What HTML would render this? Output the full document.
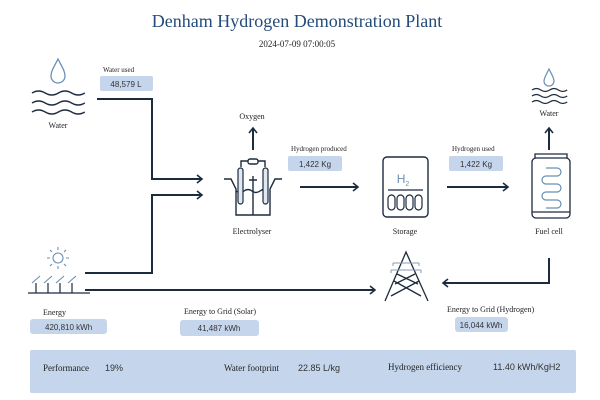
<!DOCTYPE html>
<html><head><meta charset="utf-8"><style>
html,body{margin:0;padding:0;background:#fff;width:600px;height:400px;overflow:hidden}
svg{display:block}
.s{font-family:"Liberation Serif",serif;fill:#222}
.n{font-family:"Liberation Sans",sans-serif;fill:#333}
</style></head><body>
<svg width="600" height="400" viewBox="0 0 600 400" xmlns="http://www.w3.org/2000/svg">
<defs><marker id="a" markerWidth="10" markerHeight="10" refX="7" refY="5" orient="auto" markerUnits="userSpaceOnUse"><path d="M2,1 L7,5 L2,9" fill="none" stroke="#1c2b3e" stroke-width="1.6"/></marker></defs>
<text x="297" y="27" text-anchor="middle" class="s" style="font-size:18px;fill:#244b7a">Denham Hydrogen Demonstration Plant</text>
<text x="297" y="47" text-anchor="middle" class="s" style="font-size:9px">2024-07-09 07:00:05</text>

<g fill="none" stroke="#1c2b3e" stroke-width="2">
<path d="M97,99 H152 V179 H202" marker-end="url(#a)"/>
<path d="M85,273 H152 V195 H202" marker-end="url(#a)"/>
<path d="M85,290 H375" marker-end="url(#a)"/>
<path d="M549,258 V283 H443" marker-end="url(#a)"/>
<path d="M300,187 H358" marker-end="url(#a)"/>
<path d="M447,187 H508" marker-end="url(#a)"/>
<path d="M253,150 V128" marker-end="url(#a)"/>
<path d="M549,150 V128" marker-end="url(#a)"/>
</g>

<path d="M58,59 C54,67 51,71 51,76 A7,7 0 0 0 65,76 C65,71 62,67 58,59Z" fill="none" stroke="#6a8fb5" stroke-width="1.3"/>
<g fill="none" stroke="#1c2b3e" stroke-width="1.5">
<path d="M32,93 q6.6,-4 13.2,0 t13.2,0 t13.2,0 t13.2,0"/>
<path d="M32,103 q6.6,-4 13.2,0 t13.2,0 t13.2,0 t13.2,0"/>
<path d="M32,112 q6.6,-4 13.2,0 t13.2,0 t13.2,0 t13.2,0"/>
</g>
<text x="58" y="128" text-anchor="middle" class="s" style="font-size:8px">Water</text>

<text x="103" y="72" class="s" style="font-size:7px">Water used</text>
<rect x="100" y="76" width="53" height="15" rx="2" fill="#c5d5ec"/>
<text x="126" y="87" text-anchor="middle" class="n" style="font-size:8px">48,579 L</text>

<text x="252" y="119" text-anchor="middle" class="s" style="font-size:8px">Oxygen</text>
<g fill="none" stroke="#1c2b3e" stroke-width="1.4">
<path d="M224,179 H231 L236,189 V215 H270 V189 L275,179 H282"/>
<path d="M236,191 q4,3 8,0 t8,0 t8,0 t8,0 "/>
<path d="M253,176 V215 M249,180 H257"/>
<rect x="248" y="159" width="10" height="5" rx="2"/>
<path d="M248,161 H241 V167 M258,161 H265 V167"/>
</g>
<rect x="238" y="168" width="5" height="36" rx="2.5" fill="#dfe8f3" stroke="#1c2b3e" stroke-width="1.2"/>
<rect x="263" y="168" width="5" height="36" rx="2.5" fill="#dfe8f3" stroke="#1c2b3e" stroke-width="1.2"/>
<text x="252" y="234" text-anchor="middle" class="s" style="font-size:8px">Electrolyser</text>

<text x="291" y="151" class="s" style="font-size:7px">Hydrogen produced</text>
<rect x="288" y="156" width="54" height="15" rx="2" fill="#c5d5ec"/>
<text x="315" y="167" text-anchor="middle" class="n" style="font-size:8px">1,422 Kg</text>

<rect x="383" y="157" width="45" height="60" rx="4" fill="none" stroke="#1c2b3e" stroke-width="1.4"/>
<text x="403" y="183" text-anchor="middle" class="n" style="font-size:12px;fill:#6a8fb5">H<tspan font-size="7" dy="3">2</tspan></text>
<line x1="388" y1="190" x2="423" y2="190" stroke="#1c2b3e" stroke-width="1.3"/>
<g fill="none" stroke="#1c2b3e" stroke-width="1.2">
<rect x="388" y="195" width="7" height="15" rx="3.5"/><rect x="397" y="195" width="7" height="15" rx="3.5"/><rect x="406" y="195" width="7" height="15" rx="3.5"/><rect x="415" y="195" width="7" height="15" rx="3.5"/>
</g>
<text x="405" y="234" text-anchor="middle" class="s" style="font-size:8px">Storage</text>

<text x="452" y="151" class="s" style="font-size:7px">Hydrogen used</text>
<rect x="449" y="156" width="54" height="15" rx="2" fill="#c5d5ec"/>
<text x="476" y="167" text-anchor="middle" class="n" style="font-size:8px">1,422 Kg</text>

<g fill="none" stroke="#1c2b3e" stroke-width="1.3">
<rect x="532" y="158" width="38" height="60" rx="4"/>
<path d="M535,158 V154 H567 V158"/>
<path d="M532,212 H570"/>
</g>
<path d="M546,168 H557 a4,4 0 0 1 0,8 H546 a4,4 0 0 0 0,8 H557 a4,4 0 0 1 0,8 H546 a4,4 0 0 0 0,8 H557 a4,4 0 0 1 0,8 H546" fill="none" stroke="#6a8fb5" stroke-width="1.2"/>
<text x="549" y="234" text-anchor="middle" class="s" style="font-size:8px">Fuel cell</text>
<path d="M549,69 C546,75 544,78 544,81 A5,5 0 0 0 554,81 C554,78 552,75 549,69Z" fill="none" stroke="#6a8fb5" stroke-width="1.2"/>
<g fill="none" stroke="#1c2b3e" stroke-width="1.2">
<path d="M532,90 q4.4,-3 8.8,0 t8.8,0 t8.8,0 t8.8,0"/>
<path d="M532,96 q4.4,-3 8.8,0 t8.8,0 t8.8,0 t8.8,0"/>
<path d="M532,102 q4.4,-3 8.8,0 t8.8,0 t8.8,0 t8.8,0"/>
</g>
<text x="549" y="116" text-anchor="middle" class="s" style="font-size:8px">Water</text>

<g fill="none" stroke="#6a8fb5" stroke-width="1.1">
<circle cx="58" cy="258" r="5"/>
<path d="M58,247 V250 M58,266 V269 M47,258 H50 M66,258 H69 M50,250 L52,252 M64,264 L66,266 M66,250 L64,252 M50,266 L52,264"/>
<path d="M32,283 L40,276 M44,283 L52,276 M56,283 L64,276 M68,283 L76,276"/>
</g>
<g fill="none" stroke="#1c2b3e" stroke-width="1.2">
<path d="M28,293 H90 M36,283 V293 M48,283 V293 M60,283 V293 M72,283 V293"/>
</g>
<text x="43" y="315" class="s" style="font-size:8px">Energy</text>
<rect x="30" y="319" width="77" height="15" rx="3" fill="#c5d5ec"/>
<text x="45" y="330" class="n" style="font-size:8px">420,810 kWh</text>

<text x="184" y="314" class="s" style="font-size:8px">Energy to Grid (Solar)</text>
<rect x="180" y="320" width="79" height="16" rx="3" fill="#c5d5ec"/>
<text x="219" y="331" text-anchor="middle" class="n" style="font-size:8px">41,487 kWh</text>

<g fill="none" stroke="#1c2b3e" stroke-width="1.3">
<path d="M385,301 L406,252 L428,301"/>
<path d="M394,281 L421,296 M419,281 L391,296 M397,274 L418,284 M415,274 L395,284"/>
</g>
<g fill="none" stroke="#8a9bb0" stroke-width="1">
<path d="M393,263 H419 M393,263 V266 M419,263 V266 M391,270 H421 M391,270 V273 M421,270 V273"/>
</g>
<text x="447" y="312" class="s" style="font-size:8px">Energy to Grid (Hydrogen)</text>
<rect x="455" y="317" width="53" height="15" rx="3" fill="#c5d5ec"/>
<text x="481" y="328" text-anchor="middle" class="n" style="font-size:8px">16,044 kWh</text>

<rect x="30" y="350" width="546" height="43" rx="2" fill="#c5d5ec"/>
<text x="43" y="371" class="s" style="font-size:9px">Performance</text>
<text x="105" y="371" class="n" style="font-size:9px">19%</text>
<text x="224" y="371" class="s" style="font-size:9px">Water footprint</text>
<text x="298" y="371" class="n" style="font-size:9px">22.85  L/kg</text>
<text x="388" y="370" class="s" style="font-size:9px">Hydrogen efficiency</text>
<text x="493" y="370" class="n" style="font-size:9px">11.40   kWh/KgH2</text>
</svg>
</body></html>
